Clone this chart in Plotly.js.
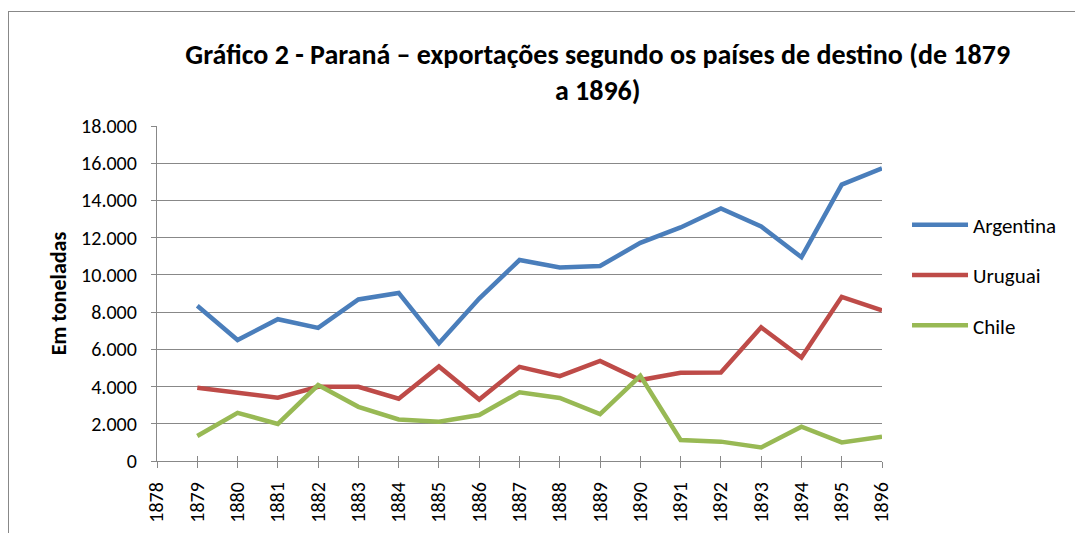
<!DOCTYPE html>
<html>
<head>
<meta charset="utf-8">
<script src="https://cdn.plot.ly/plotly-3.0.1.min.js"></script>
<style>
html,body{margin:0;padding:0;background:#fff;}
#wrap{position:relative;width:1075px;height:533px;overflow:hidden;}
#frame{position:absolute;left:8px;top:11px;width:1080px;height:540px;border:1.5px solid #888;box-sizing:border-box;pointer-events:none;z-index:5;}
#chart{position:absolute;left:0;top:0;width:1075px;height:533px;}
</style>
</head>
<body>
<div id="wrap"><div id="chart"></div><div id="frame"></div></div>
<script>
const years = [1879,1880,1881,1882,1883,1884,1885,1886,1887,1888,1889,1890,1891,1892,1893,1894,1895,1896];
const argentina = [8340,6500,7620,7150,8680,9030,6330,8730,10800,10400,10480,11720,12550,13570,12600,10950,14850,15720];
const uruguai   = [3940,3700,3400,3990,3990,3350,5080,3300,5060,4560,5380,4350,4740,4760,7180,5560,8820,8100];
const chile     = [1340,2590,1990,4080,2910,2230,2110,2470,3690,3390,2520,4580,1130,1040,730,1840,1000,1310];
const xTicks = [1878,1879,1880,1881,1882,1883,1884,1885,1886,1887,1888,1889,1890,1891,1892,1893,1894,1895,1896];
const yTicks = [0,2000,4000,6000,8000,10000,12000,14000,16000,18000];
const seriesNames = ['Argentina','Uruguai','Chile'];
const colors = ['#4a7ebb','#be4b48','#98b954'];
const font = 'Carlito, Calibri, "Open Sans", "Noto Sans", sans-serif';

const series = [argentina, uruguai, chile];
const traces = series.map((vals, i) => ({
  x: years, y: vals, type: 'scatter', mode: 'lines', name: seriesNames[i],
  legendgroup: 'g' + i,
  line: {color: colors[i], width: 4.5},
  hoverinfo: 'x+y+name'
}));

const layout = {
  width: 1075, height: 533,
  paper_bgcolor: '#fff', plot_bgcolor: '#fff',
  separators: ',.',
  margin: {l: 157, r: 193, t: 126, b: 72},
  font: {family: font, size: 20, color: '#000'},
  title: {
    text: '<b>Gráfico 2 - Paraná – exportações segundo os países de destino (de 1879<br>a 1896)</b>',
    font: {family: font, size: 28, color: '#000'},
    x: 0.556, xanchor: 'center', y: 0.88, yanchor: 'top'
  },
  xaxis: {
    range: [1878, 1896], tickvals: xTicks, ticktext: xTicks.map(String),
    tickangle: -90, showgrid: false, zeroline: false,
    showline: true, linecolor: '#888', linewidth: 1.3,
    ticks: 'outside', ticklen: 6, tickcolor: '#888', tickwidth: 1.3,
    ticklabelstandoff: 6,
    tickfont: {family: font, size: 20, color: '#000'}, fixedrange: true
  },
  xaxis2: {
    overlaying: 'x', range: [1878, 1896], tickvals: xTicks, showticklabels: false,
    showgrid: false, zeroline: false, showline: false,
    ticks: 'inside', ticklen: 5, tickcolor: '#888', tickwidth: 1.3, fixedrange: true
  },
  yaxis: {
    range: [0, 18000], tickvals: yTicks, tickformat: ',d',
    showgrid: true, gridcolor: '#888', gridwidth: 1.3,
    zeroline: false, showline: true, linecolor: '#888', linewidth: 1.3,
    ticks: 'outside', ticklen: 5, tickcolor: '#888', tickwidth: 1.3,
    ticklabelstandoff: 10,
    tickfont: {family: font, size: 20, color: '#000'},
    title: {text: '<b>Em toneladas</b>', font: {family: font, size: 22, color: '#000'}, standoff: 8},
    fixedrange: true
  },
  showlegend: true,
  legend: {
    x: 1.0345, xanchor: 'left', y: 0.555, yanchor: 'middle',
    font: {family: font, size: 21, color: '#000'},
    tracegroupgap: 20, itemwidth: 56, bgcolor: 'rgba(0,0,0,0)'
  }
};

const dummy = {x: [1878], y: [null], xaxis: 'x2', type: 'scatter', mode: 'lines', showlegend: false, hoverinfo: 'skip'};

Plotly.newPlot('chart', traces.concat([dummy]), layout, {displayModeBar: false});
</script>
</body>
</html>
